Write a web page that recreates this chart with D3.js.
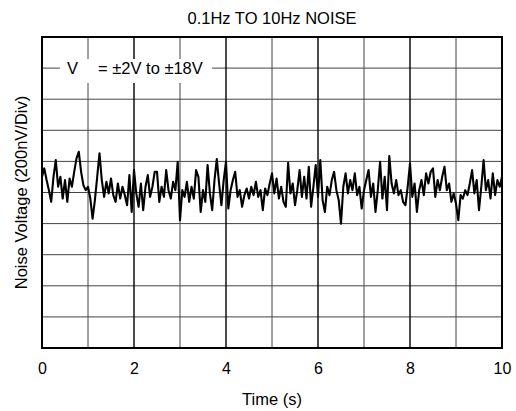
<!DOCTYPE html>
<html>
<head>
<meta charset="utf-8">
<script src="https://cdn.jsdelivr.net/npm/d3@7"></script>
<style>
  body { margin: 0; background: #fff; }
  text { font-family: "Liberation Sans", Arial, sans-serif; fill: #000; }
</style>
</head>
<body>
<div id="chart"></div>
<script>
// Chart data
var chartTitle = "0.1Hz TO 10Hz NOISE";
var xTicks = [0, 2, 4, 6, 8, 10];
var samplePeriod = 0.05; // s between trace samples
// noise trace, nV (200nV per division)
var noiseNV = [
  101, 155, 80, 15, -60, 101, 209, 37, 101, -39,
  80, -60, 90, 37, 133, 219, 262, 133, 47, 15,
  37, -39, -168, -49, 101, 252, 80, -28, 69, -6,
  90, -17, -60, 58, -39, 37, -17, -82, 112, -125,
  144, -6, -92, 58, -114, 37, 112, -28, 37, 133,
  133, -60, 37, -28, 144, 15, -39, 69, 15, 198,
  -178, 15, -28, 69, -60, 37, -39, 144, 101, -125,
  15, -60, 176, -6, -114, 80, 215, 58, -82, 80,
  198, -103, 15, 80, 133, -28, 15, -92, -17, 26,
  -39, 37, -17, 69, -28, 15, -114, 26, -17, 58,
  123, -6, 90, -39, 37, -60, -92, 191, -6, 58,
  -82, 15, 144, -28, 101, -39, 166, -92, 37, 176,
  -28, 209, -49, -125, 37, -17, 80, 133, 15, -49,
  -200, 37, 123, -6, 80, 15, 123, -17, 37, -103,
  15, 80, 144, -28, 58, -125, 15, 198, -39, 101,
  -114, 234, 58, -6, 80, -17, 15, -60, -82, 37,
  187, -28, 58, -125, 15, 80, -17, 123, 58, 133,
  155, -28, 80, 15, 101, 166, 15, 58, -60, -6,
  -71, -178, -17, -39, 15, -17, 58, 144, -6, 80,
  -114, 37, 209, 15, 80, -39, 123, -17, 80, 37,
  101
];

var svgWidth = 516;
var svgHeight = 411;
var margin = { top: 37, right: 14, bottom: 63, left: 42 };
var width = svgWidth - margin.left - margin.right;
var height = svgHeight - margin.top - margin.bottom;

var svg = d3.select("#chart")
  .append("svg")
  .attr("width", svgWidth)
  .attr("height", svgHeight);

var chartGroup = svg.append("g")
  .attr("transform", `translate(${margin.left}, ${margin.top})`);

var xScale = d3.scaleLinear().domain([0, 10]).range([0, width]);
// 10 divisions of 200nV, zero at the centre line
var yScale = d3.scaleLinear().domain([-1000, 1000]).range([height, 0]);

// grid: horizontal lines gray, vertical lines darker on labelled ticks
chartGroup.append("g")
  .selectAll("line")
  .data(d3.range(-800, 1000, 200))
  .enter()
  .append("line")
  .attr("x1", 0)
  .attr("x2", width)
  .attr("y1", d => yScale(d))
  .attr("y2", d => yScale(d))
  .attr("stroke", "#444")
  .attr("stroke-width", 1);

chartGroup.append("g")
  .selectAll("line")
  .data(d3.range(1, 10))
  .enter()
  .append("line")
  .attr("x1", d => xScale(d))
  .attr("x2", d => xScale(d))
  .attr("y1", 0)
  .attr("y2", height)
  .attr("stroke", d => d % 2 === 0 ? "#000" : "#444")
  .attr("stroke-width", d => d % 2 === 0 ? 1.4 : 1);

// legend text sits on the first gridline with a white backing
chartGroup.append("rect")
  .attr("x", 18)
  .attr("y", 22)
  .attr("width", 152)
  .attr("height", 24)
  .attr("fill", "#fff");

chartGroup.append("text")
  .attr("x", 25)
  .attr("y", 37)
  .style("font-size", "16.5px")
  .text("V");

chartGroup.append("text")
  .attr("x", 56)
  .attr("y", 37)
  .style("font-size", "16.5px")
  .text("= \u00b12V to \u00b118V");

// noise trace
var line = d3.line()
  .x((d, i) => xScale(i * samplePeriod))
  .y(d => yScale(d));

chartGroup.append("path")
  .datum(noiseNV)
  .attr("d", line)
  .attr("fill", "none")
  .attr("stroke", "#000")
  .attr("stroke-width", 2.1)
  .attr("stroke-linejoin", "round");

// plot frame
chartGroup.append("rect")
  .attr("width", width)
  .attr("height", height)
  .attr("fill", "none")
  .attr("stroke", "#000")
  .attr("stroke-width", 2);

// x tick labels
var bottomAxis = d3.axisBottom(xScale)
  .tickValues(xTicks)
  .tickSize(0)
  .tickPadding(15);

var xAxis = chartGroup.append("g")
  .attr("transform", `translate(0, ${height})`)
  .call(bottomAxis);
xAxis.select(".domain").remove();
xAxis.selectAll("text")
  .style("font-size", "16px")
  .style("font-family", "'Liberation Sans', Arial, sans-serif");

// titles
svg.append("text")
  .attr("x", margin.left + width / 2)
  .attr("y", 24)
  .attr("text-anchor", "middle")
  .style("font-size", "16.5px")
  .text(chartTitle);

svg.append("text")
  .attr("x", margin.left + width / 2)
  .attr("y", 405)
  .attr("text-anchor", "middle")
  .style("font-size", "16.5px")
  .text("Time (s)");

svg.append("text")
  .attr("transform", "rotate(-90)")
  .attr("x", -(margin.top + height / 2))
  .attr("y", 27)
  .attr("text-anchor", "middle")
  .style("font-size", "16.5px")
  .text("Noise Voltage (200nV/Div)");
</script>
</body>
</html>
